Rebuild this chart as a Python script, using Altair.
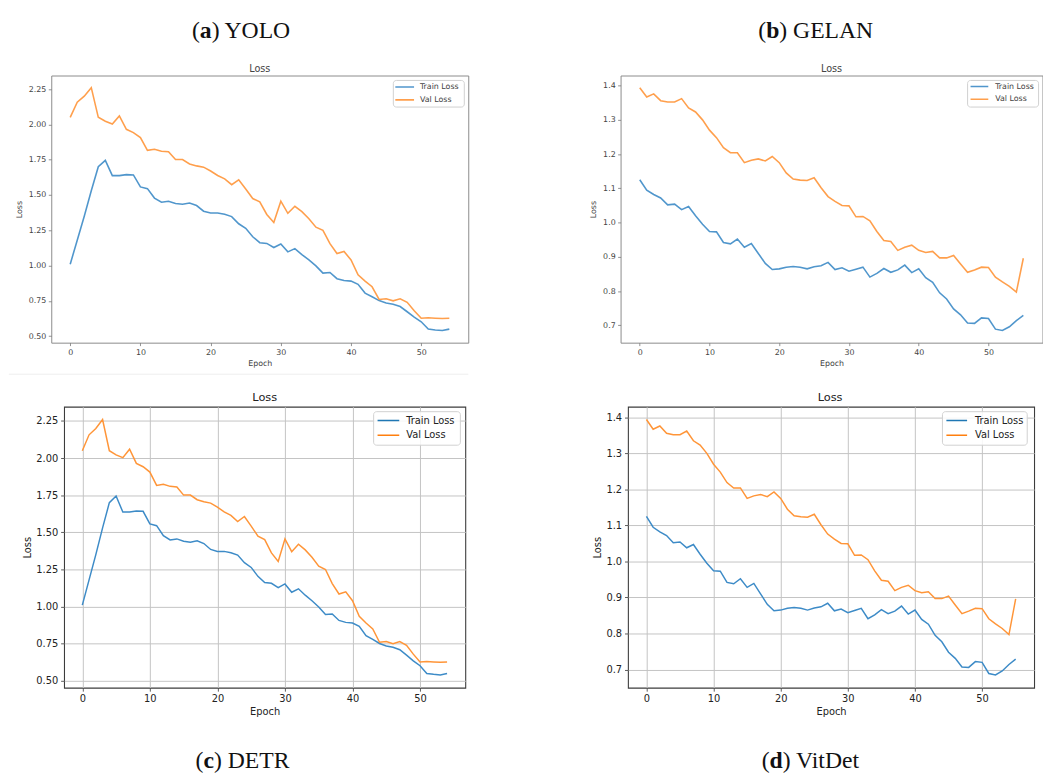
import altair as alt
import pandas as pd

# ---- loss per epoch ----
yolo_train = [1.01, 1.18, 1.35, 1.53, 1.70, 1.745, 1.637, 1.637, 1.644, 1.642,
              1.557, 1.545, 1.478, 1.449, 1.456, 1.440, 1.434, 1.443, 1.425, 1.385,
              1.372, 1.372, 1.363, 1.347, 1.296, 1.264, 1.204, 1.162, 1.157, 1.128,
              1.153, 1.097, 1.120, 1.077, 1.040, 0.998, 0.947, 0.951, 0.907, 0.894,
              0.890, 0.867, 0.805, 0.779, 0.752, 0.735, 0.726, 0.710, 0.673, 0.635,
              0.602, 0.550, 0.544, 0.540, 0.550]
yolo_val = [2.05, 2.157, 2.20, 2.26, 2.05, 2.022, 2.003, 2.06, 1.965, 1.942,
            1.906, 1.816, 1.824, 1.810, 1.806, 1.751, 1.751, 1.720, 1.706, 1.697,
            1.670, 1.638, 1.614, 1.573, 1.607, 1.542, 1.475, 1.451, 1.362, 1.305,
            1.456, 1.370, 1.420, 1.382, 1.332, 1.272, 1.250, 1.155, 1.085, 1.100,
            1.040, 0.935, 0.890, 0.850, 0.760, 0.765, 0.750, 0.765, 0.740, 0.680,
            0.627, 0.630, 0.627, 0.625, 0.627]
gelan_train = [1.125, 1.095, 1.082, 1.072, 1.052, 1.054, 1.038, 1.047, 1.020, 0.995,
               0.974, 0.973, 0.942, 0.938, 0.952, 0.928, 0.939, 0.910, 0.881, 0.863,
               0.865, 0.870, 0.872, 0.870, 0.865, 0.871, 0.874, 0.884, 0.863, 0.868,
               0.858, 0.864, 0.870, 0.841, 0.852, 0.866, 0.855, 0.862, 0.876, 0.854,
               0.865, 0.839, 0.826, 0.795, 0.777, 0.748, 0.731, 0.707, 0.706, 0.722,
               0.720, 0.689, 0.685, 0.696, 0.714, 0.729]
gelan_val = [1.394, 1.367, 1.376, 1.356, 1.352, 1.352, 1.362, 1.335, 1.323, 1.300,
             1.270, 1.248, 1.219, 1.204, 1.204, 1.175, 1.182, 1.186, 1.180, 1.193,
             1.175, 1.145, 1.127, 1.124, 1.123, 1.131, 1.102, 1.076, 1.062, 1.050,
             1.049, 1.017, 1.018, 1.005, 0.974, 0.948, 0.945, 0.919, 0.928, 0.934,
             0.919, 0.913, 0.916, 0.897, 0.897, 0.904, 0.879, 0.855, 0.862, 0.870,
             0.869, 0.841, 0.827, 0.814, 0.797, 0.896]

# DETR and VitDet show the same curves as YOLO and GELAN
detr_train, detr_val = list(yolo_train), list(yolo_val)
vitdet_train, vitdet_val = list(gelan_train), list(gelan_val)

series_names = ["Train Loss", "Val Loss"]
x_ticks = [0, 10, 20, 30, 40, 50]
y_ticks_wide = [0.50, 0.75, 1.00, 1.25, 1.50, 1.75, 2.00, 2.25]
y_ticks_narrow = [0.7, 0.8, 0.9, 1.0, 1.1, 1.2, 1.3, 1.4]

SANS = "DejaVu Sans"
SERIF = "Liberation Serif"
ONE = pd.DataFrame({"k": [0]})

# soft, small-font style (upper row) and crisp gridded style (lower row)
SOFT = dict(colors=["#3d8bc7", "#ff9538"], line_width=1.6, line_opacity=0.9,
            frame="#8a8a8a", frame_w=1.0, text="#444444", tick="#777777",
            label_size=8, axis_title_size=8, title_size=9.8, title_offset=4,
            tick_size=3, label_pad=2.5, ytitle_pad=5, xtitle_pad=4,
            grid=False, legend_font=8)
CRISP = dict(colors=["#1f77b4", "#ff7f0e"], line_width=1.5, line_opacity=1.0,
             frame="#3c3c3c", frame_w=1.1, text="#222222", tick="#333333",
             label_size=10, axis_title_size=10, title_size=11.5, title_offset=6,
             tick_size=3.5, label_pad=3, ytitle_pad=3, xtitle_pad=3,
             grid=True, legend_font=10)

# glyph advance widths (em) for the serif captions
REGULAR_EM = {"(": .333, ")": .333, " ": .25, "Y": .722, "O": .722, "L": .611,
              "G": .722, "E": .611, "A": .722, "N": .722, "D": .722, "T": .611,
              "R": .667, "V": .722, "i": .278, "t": .278, "e": .444}
BOLD_EM = {"a": .5, "b": .556, "c": .444, "d": .556}


def text_width(s, size, table):
    return sum(table.get(ch, 0.5) for ch in s) * size


def caption(letter, name, cx, baseline_y, size=24):
    w_open = text_width("(", size, REGULAR_EM)
    w_letter = text_width(letter, size, BOLD_EM)
    rest = ") " + name
    w_rest = text_width(rest, size, REGULAR_EM)
    left = cx - (w_open + w_letter + w_rest) / 2
    parts = [("(", left, "normal"),
             (letter, left + w_open, "bold"),
             (rest, left + w_open + w_letter, "normal")]
    return [
        alt.Chart(ONE).mark_text(text=t, font=SERIF, fontSize=size, fontWeight=wt,
                                 align="left", baseline="alphabetic", color="#111111")
        .encode(x=alt.value(x), y=alt.value(baseline_y))
        for t, x, wt in parts
    ]


def plot_title(style, cx):
    return alt.Chart(ONE).mark_text(
        text="Loss", font=SANS, fontSize=style["title_size"], align="center",
        baseline="alphabetic", color=style["text"]
    ).encode(x=alt.value(cx), y=alt.value(-style["title_offset"]))


def legend(style, box, handle, text_x, rows):
    x0, x1, y0, y1 = box
    layers = [
        alt.Chart(ONE).mark_rect(clip=True, fill="white", fillOpacity=0.85,
                                 stroke="#d0d0d0", strokeWidth=1, cornerRadius=3)
        .encode(x=alt.value(x0), x2=alt.value(x1), y=alt.value(y0), y2=alt.value(y1))
    ]
    for name, color, y in zip(series_names, style["colors"], rows):
        layers.append(
            alt.Chart(ONE).mark_rule(clip=True, color=color, strokeWidth=style["line_width"],
                                     opacity=style["line_opacity"])
            .encode(x=alt.value(handle[0]), x2=alt.value(handle[1]), y=alt.value(y)))
        layers.append(
            alt.Chart(ONE).mark_text(clip=True, text=name, font=SANS,
                                     fontSize=style["legend_font"], align="left",
                                     baseline="middle", color=style["text"])
            .encode(x=alt.value(text_x), y=alt.value(y)))
    return layers


def panel(epochs, train, val, style, width, height, x_domain, y_ticks, y_format,
          title_x, legend_layers, caption_layers, extra_layers):
    frame = pd.DataFrame({
        "epoch": list(epochs) * 2,
        "loss": train + val,
        "series": [series_names[0]] * len(train) + [series_names[1]] * len(val),
    })
    lo, hi = min(train + val), max(train + val)
    pad = 0.05 * (hi - lo)
    common = dict(labelFont=SANS, labelFontSize=style["label_size"],
                  labelColor=style["text"], tickColor=style["tick"],
                  tickSize=style["tick_size"], tickWidth=0.8, domain=False,
                  labelPadding=style["label_pad"],
                  titleFont=SANS, titleFontSize=style["axis_title_size"],
                  titleFontWeight="normal", titleColor=style["text"],
                  grid=style["grid"], gridColor="#c3c3c3", gridWidth=1)
    lines = alt.Chart(frame).mark_line(strokeWidth=style["line_width"],
                                       opacity=style["line_opacity"]).encode(
        x=alt.X("epoch:Q",
                scale=alt.Scale(domain=x_domain, nice=False, zero=False),
                axis=alt.Axis(values=x_ticks, format="d", title="Epoch",
                              titlePadding=style["xtitle_pad"], **common)),
        y=alt.Y("loss:Q",
                scale=alt.Scale(domain=[lo - pad, hi + pad], nice=False, zero=False),
                axis=alt.Axis(values=y_ticks, format=y_format, title="Loss",
                              titlePadding=style["ytitle_pad"], **common)),
        color=alt.Color("series:N",
                        scale=alt.Scale(domain=series_names, range=style["colors"]),
                        legend=None),
    )
    return alt.layer(lines, plot_title(style, title_x), *legend_layers,
                     *caption_layers, *extra_layers).properties(
        width=width, height=height,
        view=alt.ViewBackground(stroke=style["frame"], strokeWidth=style["frame_w"]),
    )


def anchor(x, y0, y1):
    # invisible guide that fixes the panel's outer bounds in the layout
    return alt.Chart(ONE).mark_rule(opacity=0).encode(
        x=alt.value(x), y=alt.value(y0), y2=alt.value(y1))


panel_a = panel(range(len(yolo_train)), yolo_train, yolo_val, SOFT, 423, 271,
                [-2.7, 56.7], y_ticks_wide, ".2f", 211.5,
                legend(SOFT, (347, 419, 5, 32), (349, 368), 374, (11.7, 24.7)),
                caption("a", "YOLO", 193, -38.5),
                [anchor(-43, -70, 312),
                 alt.Chart(ONE).mark_rule(color="#eeeeee").encode(
                     x=alt.value(-43), x2=alt.value(423), y=alt.value(303))])

panel_b = panel(range(len(gelan_train)), gelan_train, gelan_val, SOFT, 428, 271,
                [-2.75, 57.75], y_ticks_narrow, ".1f", 214,
                legend(SOFT, (352, 424, 5, 32), (355, 373), 380, (11.2, 24.0)),
                caption("b", "GELAN", 198, -38.5), [anchor(-40, -60, 0)])

panel_c = panel(range(len(detr_train)), detr_train, detr_val, CRISP, 407, 285,
                [-2.7, 56.7], y_ticks_wide, ".2f", 203.5,
                legend(CRISP, (314, 402, 5, 39), (318, 340), 347, (14, 29)),
                caption("c", "DETR", 181, 366),
                [anchor(-50, -22, 0)])

panel_d = panel(range(len(vitdet_train)), vitdet_train, vitdet_val, CRISP, 412, 285,
                [-2.75, 57.75], y_ticks_narrow, ".1f", 205,
                legend(CRISP, (319, 405, 5, 39), (323, 344), 352, (14, 29)),
                caption("d", "VitDet", 186, 366), [anchor(-202.45, -10, 0)])

# narrow blank cell that sets the lower row's indent
indent = alt.Chart(ONE).mark_rule(opacity=0).encode(
    x=alt.value(0), y=alt.value(0), y2=alt.value(1)
).properties(width=1, height=1,
             view=alt.ViewBackground(strokeOpacity=0, fillOpacity=0))

top_row = alt.hconcat(panel_a, panel_b, spacing=112.5)
bottom_row = alt.hconcat(indent, panel_c, panel_d, spacing=-39)

PAD = {"left": 8, "top": 0, "right": 0, "bottom": 0}
chart = alt.vconcat(top_row, bottom_row, spacing=0, padding=PAD
                    ).configure(background="white")

chart.save("out.html", embed_options={"renderer": "svg", "actions": False})
